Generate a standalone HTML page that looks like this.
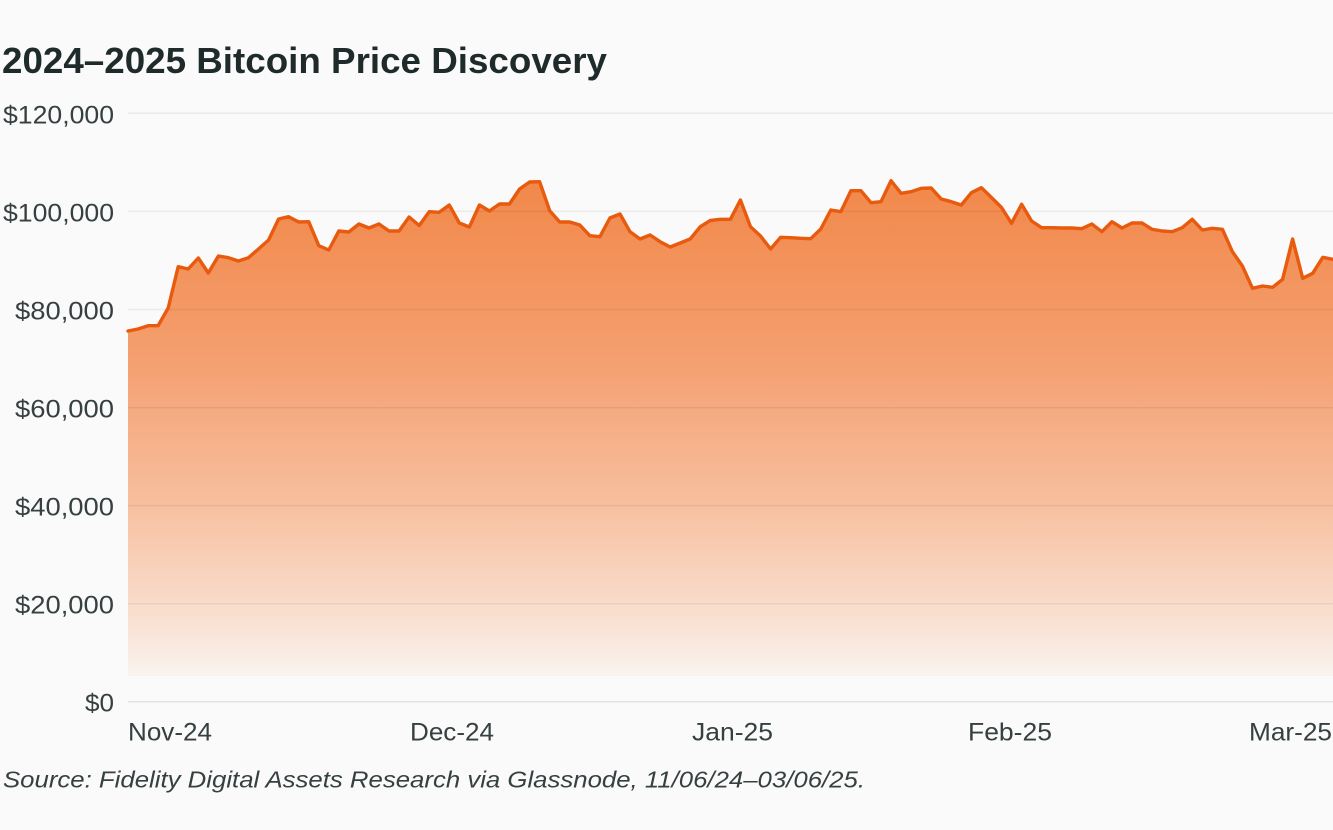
<!DOCTYPE html>
<html>
<head>
<meta charset="utf-8">
<style>
  html, body { margin: 0; padding: 0; background: #fafafa; }
  svg { display: block; }
  .t { font-family: "Liberation Sans", "DejaVu Sans", sans-serif; }
</style>
</head>
<body>
<svg width="1333" height="830" viewBox="0 0 1333 830" xmlns="http://www.w3.org/2000/svg">
  <defs>
    <linearGradient id="g" x1="0" y1="180" x2="0" y2="676" gradientUnits="userSpaceOnUse">
      <stop offset="0" stop-color="#f2884a"/>
      <stop offset="0.35" stop-color="#f49e6e"/>
      <stop offset="0.65" stop-color="#f7bf9e"/>
      <stop offset="0.88" stop-color="#f9dfd0"/>
      <stop offset="1" stop-color="#f9f3ef"/>
    </linearGradient>
  </defs>
  <rect x="0" y="0" width="1333" height="830" fill="#fafafa"/>

  <!-- area fill -->
  <polygon fill="url(#g)" points="128,331 138,329 148.1,325.7 158.1,325.7 168.2,308 178.2,266.7 188.2,269 198.3,258 208.3,273 218.4,256 228.4,257.7 238.4,261 248.5,257.7 258.5,249 268.6,240 278.6,219 288.6,216.7 298.7,222 308.7,221.7 318.8,245.7 328.8,250 338.8,231 348.9,232 358.9,224 369,228 379,224 389,231 399.1,231 409.1,217 419.2,225.5 429.2,211.7 439.2,212.3 449.3,205 459.3,223 469.4,227 479.4,205 489.4,211 499.5,204 509.5,204 519.6,189 529.6,182 539.6,181.7 549.7,210.7 559.7,222 569.8,222 579.8,225 589.8,235.7 599.9,236.7 609.9,218 620,214 630,231.7 640,239 650.1,235 660.1,241.7 670.2,247 680.2,243 690.2,239 700.3,226.7 710.3,220.5 720.4,219.3 730.4,219.3 740.4,200 750.5,226.7 760.5,236 770.6,249 780.6,237.3 790.6,237.7 800.7,238.3 810.7,238.7 820.8,229 830.8,210 840.8,211.7 850.9,190.7 860.9,190.7 871,202.7 881,201.7 891,180.7 901.1,193.3 911.1,191.7 921.2,188.3 931.2,188 941.2,199 951.3,201.7 961.3,205 971.4,192.7 981.4,187.7 991.4,197.5 1001.5,207.5 1011.5,223.3 1021.6,204.3 1031.6,221 1041.6,227.7 1051.7,227.7 1061.7,228 1071.8,228 1081.8,228.7 1091.8,224 1101.9,231.7 1111.9,221.7 1122,228 1132,223 1142,223 1152.1,229.3 1162.1,231 1172.2,231.7 1182.2,227.7 1192.2,219.3 1202.3,230 1212.3,228.3 1222.4,229.3 1232.4,251.7 1242.4,266 1252.5,288.3 1262.5,286 1272.6,287.3 1282.6,279.3 1292.6,239 1302.7,278.3 1312.7,273.3 1322.8,257.3 1332.8,259.3 1333,259.3 1333,676 128,676"/>

  <!-- gridlines -->
  <g stroke="#000" stroke-opacity="0.06" stroke-width="1.5">
    <line x1="128" y1="113.3" x2="1333" y2="113.3"/>
    <line x1="128" y1="211.4" x2="1333" y2="211.4"/>
    <line x1="128" y1="309.5" x2="1333" y2="309.5"/>
    <line x1="128" y1="407.6" x2="1333" y2="407.6"/>
    <line x1="128" y1="505.6" x2="1333" y2="505.6"/>
    <line x1="128" y1="603.7" x2="1333" y2="603.7"/>
    <line x1="128" y1="701.7" x2="1333" y2="701.7" stroke-opacity="0.09"/>
  </g>

  <!-- price line -->
  <polyline fill="none" stroke="#e85a0e" stroke-width="3.4" stroke-linejoin="round" stroke-linecap="round" points="128,331 138,329 148.1,325.7 158.1,325.7 168.2,308 178.2,266.7 188.2,269 198.3,258 208.3,273 218.4,256 228.4,257.7 238.4,261 248.5,257.7 258.5,249 268.6,240 278.6,219 288.6,216.7 298.7,222 308.7,221.7 318.8,245.7 328.8,250 338.8,231 348.9,232 358.9,224 369,228 379,224 389,231 399.1,231 409.1,217 419.2,225.5 429.2,211.7 439.2,212.3 449.3,205 459.3,223 469.4,227 479.4,205 489.4,211 499.5,204 509.5,204 519.6,189 529.6,182 539.6,181.7 549.7,210.7 559.7,222 569.8,222 579.8,225 589.8,235.7 599.9,236.7 609.9,218 620,214 630,231.7 640,239 650.1,235 660.1,241.7 670.2,247 680.2,243 690.2,239 700.3,226.7 710.3,220.5 720.4,219.3 730.4,219.3 740.4,200 750.5,226.7 760.5,236 770.6,249 780.6,237.3 790.6,237.7 800.7,238.3 810.7,238.7 820.8,229 830.8,210 840.8,211.7 850.9,190.7 860.9,190.7 871,202.7 881,201.7 891,180.7 901.1,193.3 911.1,191.7 921.2,188.3 931.2,188 941.2,199 951.3,201.7 961.3,205 971.4,192.7 981.4,187.7 991.4,197.5 1001.5,207.5 1011.5,223.3 1021.6,204.3 1031.6,221 1041.6,227.7 1051.7,227.7 1061.7,228 1071.8,228 1081.8,228.7 1091.8,224 1101.9,231.7 1111.9,221.7 1122,228 1132,223 1142,223 1152.1,229.3 1162.1,231 1172.2,231.7 1182.2,227.7 1192.2,219.3 1202.3,230 1212.3,228.3 1222.4,229.3 1232.4,251.7 1242.4,266 1252.5,288.3 1262.5,286 1272.6,287.3 1282.6,279.3 1292.6,239 1302.7,278.3 1312.7,273.3 1322.8,257.3 1332.8,259.3 1336,259.5"/>

  <!-- title -->
  <text class="t" x="2" y="73" font-size="36" font-weight="bold" fill="#1f2b2b" textLength="605" lengthAdjust="spacingAndGlyphs">2024–2025 Bitcoin Price Discovery</text>

  <!-- y axis labels -->
  <g class="t" font-size="25" fill="#364040" text-anchor="end">
    <text x="114" y="123.3" textLength="111" lengthAdjust="spacingAndGlyphs">$120,000</text>
    <text x="114" y="221.4" textLength="111" lengthAdjust="spacingAndGlyphs">$100,000</text>
    <text x="114" y="319.5" textLength="99" lengthAdjust="spacingAndGlyphs">$80,000</text>
    <text x="114" y="417.6" textLength="99" lengthAdjust="spacingAndGlyphs">$60,000</text>
    <text x="114" y="515.6" textLength="99" lengthAdjust="spacingAndGlyphs">$40,000</text>
    <text x="114" y="613.7" textLength="99" lengthAdjust="spacingAndGlyphs">$20,000</text>
    <text x="114" y="711.7" textLength="29" lengthAdjust="spacingAndGlyphs">$0</text>
  </g>

  <!-- x axis labels -->
  <g class="t" font-size="25" fill="#364040">
    <text x="128" y="740.5" textLength="84" lengthAdjust="spacingAndGlyphs">Nov-24</text>
    <text x="410" y="740.5" textLength="84" lengthAdjust="spacingAndGlyphs">Dec-24</text>
    <text x="692" y="740.5" textLength="81" lengthAdjust="spacingAndGlyphs">Jan-25</text>
    <text x="968" y="740.5" textLength="84" lengthAdjust="spacingAndGlyphs">Feb-25</text>
    <text x="1249" y="740.5" textLength="83" lengthAdjust="spacingAndGlyphs">Mar-25</text>
  </g>

  <!-- source -->
  <text class="t" x="3" y="787.7" font-size="23" font-style="italic" fill="#364040" textLength="862" lengthAdjust="spacingAndGlyphs">Source: Fidelity Digital Assets Research via Glassnode, 11/06/24–03/06/25.</text>
</svg>
</body>
</html>
